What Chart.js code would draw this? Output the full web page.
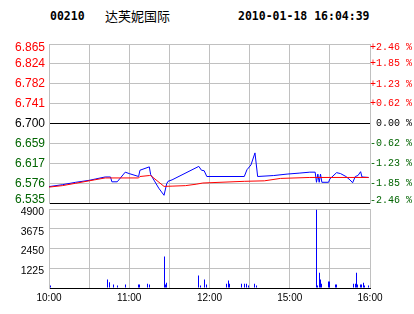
<!DOCTYPE html>
<html>
<head>
<meta charset="utf-8">
<script src="https://cdn.jsdelivr.net/npm/chart.js@4.4.0/dist/chart.umd.min.js"></script>
<style>
body { margin: 0; background: #fff; }
#wrap { position: relative; width: 414px; height: 314px; overflow: hidden; }
canvas { position: absolute; left: 0; top: 0; }
.hd { position: absolute; top: 9px; line-height: 14px; font: bold 11.5px "DejaVu Sans Mono", monospace; color: #000; white-space: nowrap; }
.nm { font: 13px "Noto Sans CJK SC", sans-serif; line-height: 14px; }
</style>
</head>
<body>
<div id="wrap">
	<div class="hd" style="left:50px">00210</div>
	<div class="hd nm" style="left:105px">达芙妮国际</div>
	<div class="hd" style="left:238px">2010-01-18 16:04:39</div>
	<canvas id="price" width="414" height="314"></canvas>
	<canvas id="vol" width="414" height="314"></canvas>
</div>
<script>
// grid / tick labels
const gridTimes = ["10:00", "10:30", "11:00", "11:30", "12:00", "14:30", "15:00", "15:30", "16:00"];
const xLabels = ["10:00", "", "11:00", "", "12:00", "", "15:00", "", "16:00"];
const priceTicks = [6.535, 6.576, 6.617, 6.659, 6.700, 6.741, 6.782, 6.824, 6.865];
const pctLabels = ["-2.46 %", "-1.85 %", "-1.23 %", "-0.62 %", " 0.00 %", "+0.62 %", "+1.23 %", "+1.85 %", "+2.46 %"];
const volTicks = [0, 1225, 2450, 3675, 4900];

// last price (blue)
const lastTimes = ["10:00", "10:10", "10:20", "10:30", "10:35", "10:42", "10:46", "10:47", "10:51", "10:57",
	"11:00", "11:07", "11:08", "11:15", "11:16", "11:22", "11:26", "11:28", "11:29", "11:32",
	"11:52", "11:54", "11:56", "11:58", "12:26", "12:28", "14:31", "14:34", "14:36", "14:48",
	"14:58", "15:07", "15:15", "15:19", "15:20", "15:21", "15:22", "15:23", "15:24", "15:29",
	"15:30", "15:35", "15:38", "15:42", "15:45", "15:47", "15:49", "15:51", "15:53", "15:54", "15:59"];
const lastPrices = [6.569, 6.573, 6.578, 6.582, 6.585, 6.589, 6.589, 6.579, 6.579, 6.599,
	6.596, 6.590, 6.603, 6.610, 6.594, 6.566, 6.551, 6.575, 6.580, 6.583,
	6.611, 6.603, 6.602, 6.590, 6.590, 6.604, 6.614, 6.639, 6.590, 6.592,
	6.595, 6.597, 6.599, 6.599, 6.578, 6.595, 6.578, 6.595, 6.578, 6.578,
	6.585, 6.598, 6.596, 6.590, 6.583, 6.577, 6.590, 6.592, 6.600, 6.589, 6.588];

// average price (red)
const avgTimes = ["10:00", "10:10", "10:20", "10:34", "10:42", "11:07", "11:08", "11:15", "11:16", "11:26",
	"11:32", "11:42", "11:50", "11:55", "12:26", "14:41", "14:53", "15:15", "15:59"];
const avgPrices = [6.568, 6.571, 6.576, 6.583, 6.587, 6.587, 6.590, 6.592, 6.592, 6.5695,
	6.570, 6.571, 6.574, 6.5765, 6.580, 6.581, 6.586, 6.588, 6.588];

// volume
const volTimes = ["10:01", "10:44", "10:45", "10:48", "10:51", "10:57", "11:07", "11:08", "11:14", "11:15",
	"11:26", "11:27", "11:28", "11:52", "11:53", "11:56", "11:58", "12:13", "12:14", "12:15",
	"12:24", "12:26", "12:28", "12:29", "14:34", "14:35", "15:20", "15:21", "15:22", "15:23",
	"15:24", "15:29", "15:30", "15:34", "15:35", "15:48", "15:49", "15:50", "15:51", "15:53",
	"15:54", "15:55", "15:56", "15:59"];
const volValues = [150, 520, 350, 210, 150, 210, 210, 210, 270, 210,
	1950, 210, 330, 770, 150, 520, 210, 270, 460, 270,
	270, 270, 270, 150, 270, 150, 4850, 150, 950, 520,
	270, 400, 400, 210, 210, 270, 270, 950, 210, 210,
	210, 330, 150, 150];

const RED = "#ff0000";
const GREEN = "#006400";
const GRID = "#c0c0c0";

// morning session 10:00-12:30, afternoon 14:30-16:00 on one axis
function minuteIndex(t) {
	const [h, m] = t.split(":").map(Number);
	const mins = h * 60 + m;
	return mins < 14 * 60 ? mins - 600 : mins - 870 + 150;
}

const points = (times, vals) => times.map((t, i) => ({ x: minuteIndex(t), y: vals[i] }));
const tickColor = (i) => (i > 4 ? RED : i === 4 ? "#000" : GREEN);
const xGridTicks = (s) => { s.ticks = gridTimes.map((t) => ({ value: minuteIndex(t) })); };
// nudge the first / last label inside the plot (half-height blank line)
const edgeLabel = (text, i, n) => (i === 0 ? [text, ""] : i === n - 1 ? ["", text] : text);

Chart.defaults.font.family = "'Liberation Sans', Arial, sans-serif";

new Chart(document.getElementById("price"), {
	type: "line",
	data: {
		datasets: [
			{ data: points(avgTimes, avgPrices), borderColor: RED, borderWidth: 1, pointRadius: 0, tension: 0 },
			{ data: points(lastTimes, lastPrices), borderColor: "#0000ff", borderWidth: 1, pointRadius: 0, tension: 0 },
		],
	},
	options: {
		responsive: false,
		animation: false,
		layout: { padding: { top: 44, bottom: 111, left: 0, right: 0 } },
		plugins: { legend: { display: false }, tooltip: { enabled: false } },
		scales: {
			x: {
				type: "linear", min: 0, max: 240,
				afterBuildTicks: xGridTicks,
				afterFit: (s) => { s.height = 0; },
				ticks: { display: false },
				grid: { color: GRID, drawTicks: false },
				border: { color: "#000" },
			},
			y: {
				position: "left",
				min: priceTicks[0], max: priceTicks[priceTicks.length - 1],
				afterBuildTicks: (s) => { s.ticks = priceTicks.map((v) => ({ value: v })); },
				afterFit: (s) => { s.width = 49; },
				ticks: {
					autoSkip: false, padding: 4, font: { size: 12, lineHeight: 0.55 },
					color: (c) => tickColor(c.index),
					callback: (v, i) => edgeLabel(priceTicks[i].toFixed(3), i, priceTicks.length),
				},
				grid: { drawTicks: false, color: (c) => (c.index === 0 || c.index === 4 ? "#000" : GRID) },
				border: { color: GRID },
			},
			y2: {
				position: "right",
				min: priceTicks[0], max: priceTicks[priceTicks.length - 1],
				afterBuildTicks: (s) => { s.ticks = priceTicks.map((v) => ({ value: v })); },
				afterFit: (s) => { s.width = 44; },
				ticks: {
					autoSkip: false, padding: 0,
					font: { family: "'Liberation Mono', monospace", size: 10, lineHeight: 0.6 },
					color: (c) => tickColor(c.index),
					callback: (v, i) => edgeLabel(pctLabels[i], i, pctLabels.length),
				},
				grid: { drawOnChartArea: false, drawTicks: false },
				border: { color: GRID },
			},
		},
	},
});

// keep the 1px volume bars on whole pixels
const snapBars = {
	id: "snapBars",
	beforeDatasetsDraw(chart) {
		chart.getDatasetMeta(0).data.forEach((b) => { b.x = Math.round(b.x - 0.5) + 0.5; });
	},
};

new Chart(document.getElementById("vol"), {
	type: "bar",
	data: {
		datasets: [{ data: points(volTimes, volValues), backgroundColor: "#0000ff", barThickness: 1, inflateAmount: 0 }],
	},
	options: {
		responsive: false,
		animation: false,
		layout: { padding: { top: 209, bottom: 0, left: 0, right: 44 } },
		plugins: { legend: { display: false }, tooltip: { enabled: false } },
		scales: {
			x: {
				type: "linear", min: 0, max: 240, offset: false,
				afterBuildTicks: xGridTicks,
				afterFit: (s) => { s.height = 26; },
				ticks: { autoSkip: false, maxRotation: 0, padding: 4, font: { size: 10 }, color: "#000", callback: (v, i) => xLabels[i] },
				grid: { offset: false, drawTicks: false, color: GRID },
				border: { color: "#000" },
			},
			y: {
				min: 0, max: volTicks[volTicks.length - 1],
				afterBuildTicks: (s) => { s.ticks = volTicks.map((v) => ({ value: v })); },
				afterFit: (s) => { s.width = 49; },
				ticks: { autoSkip: false, padding: 5, labelOffset: 3, font: { size: 10.5 }, color: "#000", callback: (v) => (v === 0 ? "" : String(v)) },
				grid: { drawTicks: false, color: (c) => (c.index === 0 ? "#000" : GRID) },
				border: { color: GRID },
			},
		},
	},
	plugins: [snapBars],
});
</script>
</body>
</html>
